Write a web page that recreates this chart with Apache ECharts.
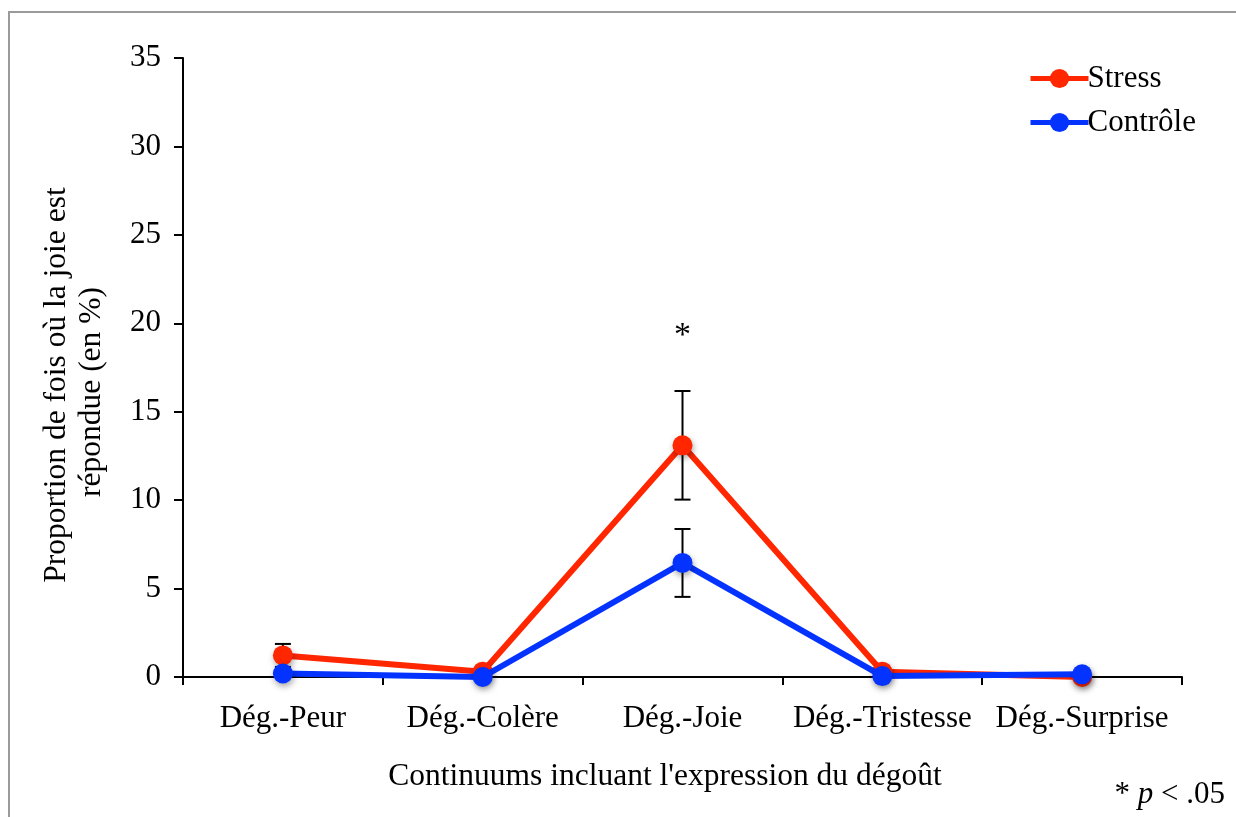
<!DOCTYPE html>
<html>
<head>
<meta charset="utf-8">
<script src="https://cdn.jsdelivr.net/npm/echarts@6/dist/echarts.min.js"></script>
<style>html,body{margin:0;padding:0;background:#fff}#c{width:1236px;height:817px}</style>
</head>
<body>
<div id="c"></div>
<script>
var categories = ['Dég.-Peur', 'Dég.-Colère', 'Dég.-Joie', 'Dég.-Tristesse', 'Dég.-Surprise'];
var stressValues = [1.22, 0.3, 13.1, 0.3, 0.0];
var stressErrors = [0.65, 0.3, 3.07, 0.3, 0.0];
var controleValues = [0.2, 0.0, 6.45, 0.05, 0.15];
var controleErrors = [0.2, 0.0, 1.92, 0.05, 0.15];
var yTicks = [0, 5, 10, 15, 20, 25, 30, 35];
var showErr = [true, false, true, false, false];

var FONT = '"Liberation Serif", "Times New Roman", serif';
var RED = '#FF2600';
var BLUE = '#0433FF';

function errData(vals, errs) {
  return vals.map(function (v, i) { return [i, v - errs[i], v + errs[i], showErr[i] ? 1 : 0]; });
}

function errRender(params, api) {
  if (!api.value(3)) return null;
  var i = api.value(0);
  var lo = api.coord([i, api.value(1)]);
  var hi = api.coord([i, api.value(2)]);
  var w = 8;
  var st = { stroke: '#000', lineWidth: 2 };
  return {
    type: 'group',
    children: [
      { type: 'line', shape: { x1: hi[0], y1: hi[1], x2: lo[0], y2: lo[1] }, style: st },
      { type: 'line', shape: { x1: hi[0] - w, y1: hi[1], x2: hi[0] + w, y2: hi[1] }, style: st },
      { type: 'line', shape: { x1: lo[0] - w, y1: lo[1], x2: lo[0] + w, y2: lo[1] }, style: st }
    ]
  };
}

var chart = echarts.init(document.getElementById('c'));
chart.setOption({
  backgroundColor: '#fff',
  animation: false,
  grid: { left: 183, right: 54, top: 58, bottom: 140 },
  legend: {
    left: 1023, top: 58, orient: 'vertical', itemGap: 13,
    itemWidth: 58, itemHeight: 24,
    lineStyle: { width: 5 },
    textStyle: { fontFamily: FONT, fontSize: 31, color: '#000', padding: [0, 0, 0, -6] },
    data: ['Stress', 'Contrôle']
  },
  xAxis: {
    type: 'category', data: categories, boundaryGap: true,
    axisLine: { lineStyle: { color: '#000', width: 2 } },
    axisTick: { show: true, interval: 0, length: 8, lineStyle: { color: '#000', width: 2 } },
    axisLabel: { interval: 0, fontFamily: FONT, fontSize: 31, color: '#000', margin: 26 },
    splitLine: { show: false }
  },
  yAxis: {
    type: 'value', min: 0, max: 35, interval: 5,
    axisLine: { show: true, lineStyle: { color: '#000', width: 2 } },
    axisTick: { show: true, length: 9, lineStyle: { color: '#000', width: 2 } },
    axisLabel: { fontFamily: FONT, fontSize: 31, color: '#000', margin: 22,
      formatter: function (v) { return yTicks.indexOf(v) >= 0 ? String(v) : ''; } },
    splitLine: { show: false }
  },
  graphic: [
    { type: 'rect', shape: { x: 9, y: 12, width: 1300, height: 900 }, style: { fill: 'none', stroke: '#9a9a9a', lineWidth: 2 }, silent: true, z: -10 },
    { type: 'text', x: 74, y: 385, rotation: Math.PI / 2,
      style: { text: 'Proportion de fois où la joie est', fontFamily: FONT, fontSize: 31.5, fill: '#000', align: 'center', verticalAlign: 'middle', lineHeight: 35, x: 0, y: -17 } },
    { type: 'text', x: 74, y: 392, rotation: Math.PI / 2,
      style: { text: 'répondue (en %)', fontFamily: FONT, fontSize: 31.5, fill: '#000', align: 'center', verticalAlign: 'middle', lineHeight: 35, x: 0, y: 18 } },
    { type: 'text', x: 665, y: 777,
      style: { text: "Continuums incluant l'expression du dégoût", fontFamily: FONT, fontSize: 31.5, fill: '#000', align: 'center', verticalAlign: 'middle' } },
    { type: 'text', x: 1225, y: 795,
      style: { text: '{n|* }{i|p}{n| < .05}', align: 'right', verticalAlign: 'middle',
        rich: { n: { fontFamily: FONT, fontSize: 31, fill: '#000' }, i: { fontFamily: FONT, fontSize: 31, fontStyle: 'italic', fill: '#000' } } } }
  ],
  series: [
    { type: 'custom', name: 'errS', renderItem: errRender, data: errData(stressValues, stressErrors), z: 1, silent: true },
    { type: 'custom', name: 'errC', renderItem: errRender, data: errData(controleValues, controleErrors), z: 1, silent: true },
    {
      name: 'Stress', type: 'line', data: stressValues, z: 3,
      symbol: 'circle', symbolSize: 20,
      lineStyle: { color: RED, width: 6 },
      itemStyle: { color: RED, shadowBlur: 6, shadowColor: 'rgba(0,0,0,0.35)', shadowOffsetX: 1, shadowOffsetY: 3 },
      markPoint: {
        symbol: 'circle', symbolSize: 0,
        label: { show: true, formatter: '*', fontFamily: FONT, fontSize: 34, color: '#000' },
        data: [{ coord: ['Dég.-Joie', 19.3] }]
      }
    },
    {
      name: 'Contrôle', type: 'line', data: controleValues, z: 4,
      symbol: 'circle', symbolSize: 20,
      lineStyle: { color: BLUE, width: 6 },
      itemStyle: { color: BLUE, shadowBlur: 6, shadowColor: 'rgba(0,0,0,0.35)', shadowOffsetX: 1, shadowOffsetY: 3 }
    }
  ]
});
</script>
</body>
</html>
